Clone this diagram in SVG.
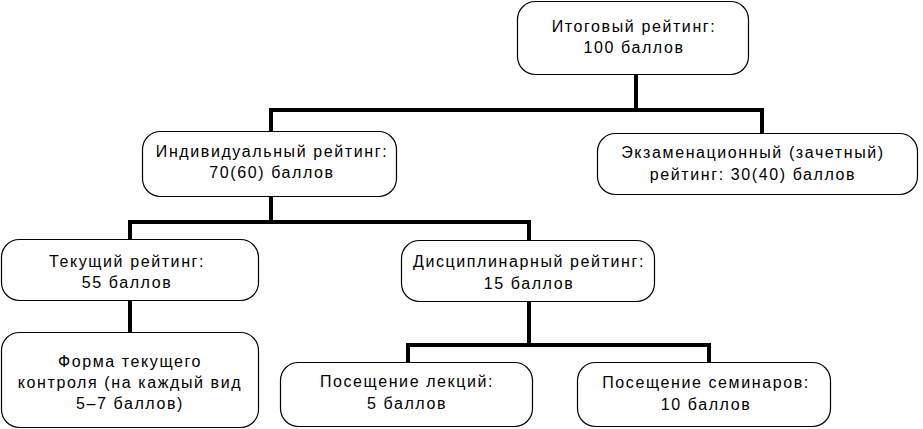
<svg xmlns="http://www.w3.org/2000/svg" width="923" height="429" viewBox="0 0 923 429">
<style>
.box{fill:#fff;stroke:#000;stroke-width:1.2}
.t{font-family:"Liberation Sans",Arial,sans-serif;font-size:16px;letter-spacing:1.6px;fill:#000;text-anchor:middle}
.c{fill:none;stroke:#000;stroke-width:4;stroke-linecap:butt;stroke-linejoin:miter}
</style>
<rect width="923" height="429" fill="#fff"/>
<g id="connectors">
<path class="c" d="M636,75 V110 M269,110 H764 M271,110 V131 M762,110 V133"/>
<path class="c" d="M271,197 V222 M128,222 H531 M130,222 V239 M529,222 V240"/>
<path class="c" d="M130,301 V332"/>
<path class="c" d="M529,302 V345 M406,345 H711 M408,345 V362 M709,345 V362"/>
</g>
<g id="n-total">
<rect class="box" x="517.5" y="1.5" width="231" height="73" rx="18"/>
<text class="t" x="634" y="32">Итоговый рейтинг:</text>
<text class="t" x="634" y="53">100 баллов</text>
</g>
<g id="n-individual">
<rect class="box" x="142.5" y="131.5" width="254" height="65" rx="18"/>
<text class="t" x="272" y="157">Индивидуальный рейтинг:</text>
<text class="t" x="272" y="178">70(60) баллов</text>
</g>
<g id="n-exam">
<rect class="box" x="597.5" y="133.5" width="320" height="61" rx="18"/>
<text class="t" x="753" y="158">Экзаменационный (зачетный)</text>
<text class="t" x="753" y="180">рейтинг: 30(40) баллов</text>
</g>
<g id="n-current">
<rect class="box" x="1.5" y="239.5" width="257" height="61" rx="18"/>
<text class="t" x="127" y="267">Текущий рейтинг:</text>
<text class="t" x="127" y="288">55 баллов</text>
</g>
<g id="n-discipline">
<rect class="box" x="401.5" y="240.5" width="253" height="61" rx="18"/>
<text class="t" x="529" y="267">Дисциплинарный рейтинг:</text>
<text class="t" x="529" y="289">15 баллов</text>
</g>
<g id="n-form">
<rect class="box" x="1.5" y="332.5" width="257" height="95" rx="18"/>
<text class="t" x="130" y="367">Форма текущего</text>
<text class="t" x="130" y="388">контроля (на каждый вид</text>
<text class="t" x="130" y="409">5–7 баллов)</text>
</g>
<g id="n-lectures">
<rect class="box" x="280.5" y="362.5" width="252" height="64" rx="18"/>
<text class="t" x="407" y="387">Посещение лекций:</text>
<text class="t" x="407" y="409">5 баллов</text>
</g>
<g id="n-seminars">
<rect class="box" x="577.5" y="362.5" width="253" height="64" rx="18"/>
<text class="t" x="706" y="388">Посещение семинаров:</text>
<text class="t" x="706" y="410">10 баллов</text>
</g>
</svg>
